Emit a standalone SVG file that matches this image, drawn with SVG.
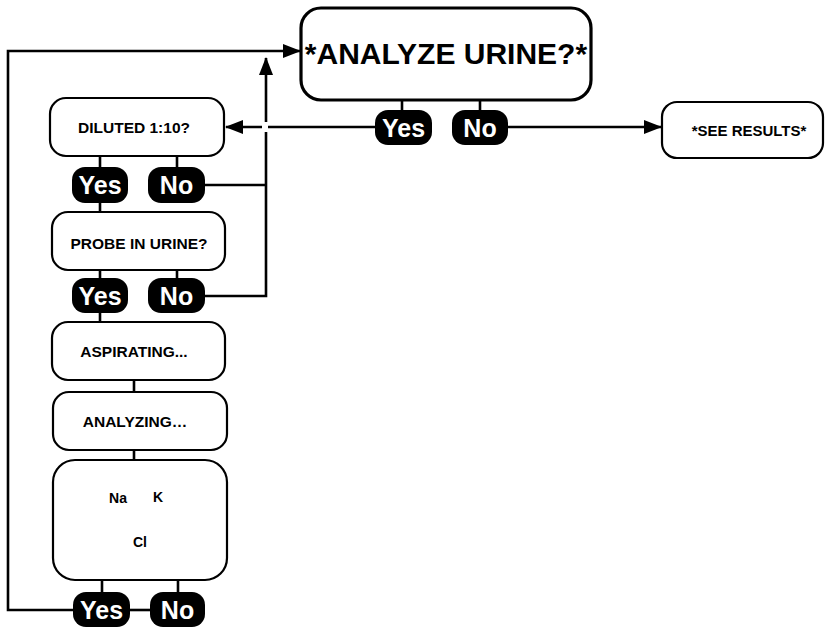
<svg xmlns="http://www.w3.org/2000/svg" width="825" height="627" viewBox="0 0 825 627">
<style>
.box{fill:#fff;stroke:#000;stroke-width:2.2}
.main{fill:#fff;stroke:#000;stroke-width:3.2}
.pill{fill:#000;stroke:none}
.pt{font-family:"Liberation Sans",Arial,sans-serif;font-weight:bold;font-size:25px;fill:#fff;text-anchor:middle}
.t{font-family:"Liberation Sans",Arial,sans-serif;font-weight:bold;font-size:15.5px;fill:#000;text-anchor:middle}
.ln{fill:none;stroke:#000;stroke-width:2.6}
</style>
<defs>
<marker id="ah" markerUnits="userSpaceOnUse" markerWidth="18" markerHeight="14" refX="17" refY="7" orient="auto">
<path d="M0,0 L18,7 L0,14 Z" fill="#000"/>
</marker>
</defs>
<g id="connectors">
<path class="ln" d="M402,100 V111 M480,100 V111"/>
<path class="ln" d="M100,156 V168 M177,156 V168"/>
<path class="ln" d="M100,202 V213"/>
<path class="ln" d="M100,270 V279 M177,270 V279"/>
<path class="ln" d="M100,312 V323"/>
<path class="ln" d="M134,380 V393"/>
<path class="ln" d="M134,450 V461"/>
<path class="ln" d="M102,580 V593 M178,580 V593"/>
<path class="ln" d="M130,610 H151"/>
<path class="ln" d="M376,127 H268"/>
<path class="ln" d="M262,127 H226" marker-end="url(#ah)"/>
<path class="ln" d="M507,127 H661" marker-end="url(#ah)"/>
<path class="ln" d="M204,185 H266 M204,296 H266 V132"/>
<path class="ln" d="M266,122 V58" marker-end="url(#ah)"/>
<path class="ln" d="M74,610 H8 V51 H300" marker-end="url(#ah)"/>
</g>
<g id="analyze">
<rect class="main" x="301" y="8" width="290" height="92" rx="20"/>
<text class="t" x="446" y="64" style="font-size:30px">*ANALYZE URINE?*</text>
</g>
<g id="analyze-yes"><rect class="pill" x="375" y="110" width="57" height="35" rx="13"/><text class="pt" x="403.5" y="137">Yes</text></g>
<g id="analyze-no"><rect class="pill" x="452" y="110" width="56" height="35" rx="13"/><text class="pt" x="480" y="137">No</text></g>
<g id="results">
<rect class="box" x="662" y="102" width="161" height="56" rx="15"/>
<text class="t" x="749" y="136" style="font-size:15px">*SEE RESULTS*</text>
</g>
<g id="diluted">
<rect class="box" x="50" y="98" width="174" height="58" rx="16"/>
<text class="t" x="134" y="133">DILUTED 1:10?</text>
</g>
<g id="diluted-yes"><rect class="pill" x="72" y="167" width="56" height="36" rx="13"/><text class="pt" x="100" y="194">Yes</text></g>
<g id="diluted-no"><rect class="pill" x="148" y="167" width="57" height="36" rx="13"/><text class="pt" x="176.5" y="194">No</text></g>
<g id="probe">
<rect class="box" x="52" y="212" width="173" height="58" rx="16"/>
<text class="t" x="139" y="249">PROBE IN URINE?</text>
</g>
<g id="probe-yes"><rect class="pill" x="72" y="278" width="56" height="35" rx="13"/><text class="pt" x="100" y="305">Yes</text></g>
<g id="probe-no"><rect class="pill" x="148" y="278" width="57" height="35" rx="13"/><text class="pt" x="176.5" y="305">No</text></g>
<g id="aspirating">
<rect class="box" x="52" y="322" width="173" height="58" rx="16"/>
<text class="t" x="134" y="357">ASPIRATING...</text>
</g>
<g id="analyzing">
<rect class="box" x="53" y="392" width="174" height="58" rx="16"/>
<text class="t" x="135" y="427">ANALYZING…</text>
</g>
<g id="result">
<rect class="box" x="53" y="460" width="174" height="120" rx="22"/>
<text class="t" x="118" y="503" style="font-size:14px">Na</text>
<text class="t" x="158" y="502" style="font-size:14px">K</text>
<text class="t" x="140" y="547" style="font-size:14px">Cl</text>
</g>
<g id="result-yes"><rect class="pill" x="73" y="592" width="57" height="35" rx="13"/><text class="pt" x="101.5" y="619">Yes</text></g>
<g id="result-no"><rect class="pill" x="150" y="592" width="55" height="35" rx="13"/><text class="pt" x="177.5" y="619">No</text></g>
</svg>
